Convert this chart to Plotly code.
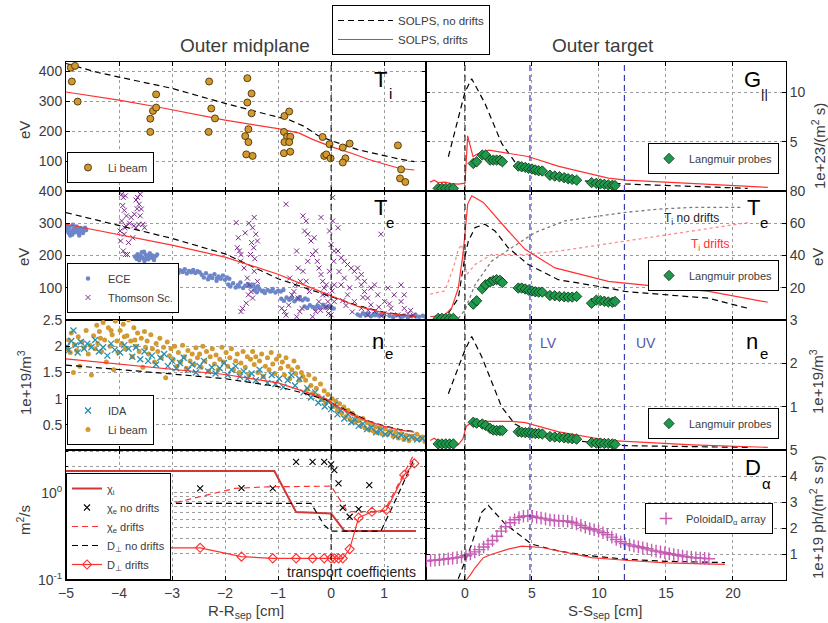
import plotly.graph_objects as go

W, H = 828, 623
FONT = "Liberation Sans, Arial, Helvetica, sans-serif"
INK = "#3c3c3c"
RED = "#ff3030"
CHI_RED = "#d03838"
DASH = "6px,4px"

# ---------------- coordinates ----------------
R_RANGE = [-5.0, 1.79]          # R - R_sep [cm]
S_RANGE = [-2.91, 23.96]        # S - S_sep [cm]
SEP = 0.0
LV_S = 4.85
UV_S = 11.9

# ---------------- outer midplane: T_i [eV] ----------------
ti_nd_r = [-5, -4.4, -3, -2, -1.2, -0.8, -0.5, -0.25, 0, 0.5, 1, 1.3, 1.57]
ti_nd = [425, 395, 342, 292, 255, 238, 215, 185, 168, 138, 118, 106, 98]
ti_d_r = [-5, -4, -3.27, -2, -1, -0.6, -0.35, 0, 0.4, 0.7, 1, 1.3, 1.57]
ti_d = [330, 303, 280, 236, 208, 193, 172, 148, 125, 106, 90, 75, 70]
li_ti = [(-4.91, 411), (-4.83, 417), (-4.89, 365), (-4.78, 298), (-3.41, 197), (-3.41, 241),
         (-3.36, 267), (-3.30, 322), (-3.30, 278), (-2.30, 365), (-2.26, 275), (-2.19, 242),
         (-2.31, 197), (-1.58, 376), (-1.50, 325), (-1.58, 295), (-1.50, 259), (-1.56, 206),
         (-1.62, 183), (-1.56, 163), (-1.60, 122), (-1.48, 117), (-0.88, 250), (-0.79, 265),
         (-0.89, 197), (-0.83, 181), (-0.88, 163), (-0.77, 181), (-0.79, 163), (-0.89, 126),
         (-0.77, 131), (-0.16, 180), (-0.03, 156), (-0.13, 117), (-0.09, 122), (-0.01, 109),
         (0.22, 145), (0.35, 158), (0.27, 109), (0.22, 95), (1.26, 152), (1.32, 72),
         (1.30, 42), (1.40, 30)]

# ---------------- outer midplane: T_e [eV] ----------------
te_nd_r = [-5, -4, -3, -2, -1, -0.5, 0, 0.5, 1, 1.6]
te_nd = [333, 293, 253, 205, 128, 100, 72, 45, 24, 10]
te_d_r = [-5, -4, -3, -2, -1, -0.5, 0, 0.5, 1, 1.6]
te_d = [297, 265, 232, 195, 142, 108, 75, 42, 22, 10]
ece = [
    (-4.98, 280), (-4.95, 270), (-4.93, 288), (-4.90, 276), (-4.88, 265), (-4.85, 283), (-4.83, 272),
    (-4.80, 290), (-4.78, 279), (-4.76, 268), (-4.73, 285), (-4.71, 274), (-4.69, 282), (-4.66, 277),
    (-4.64, 286), (-4.97, 291), (-4.87, 295), (-4.75, 262), (-4.92, 262), (-4.68, 270), (-4.96, 275),
    (-4.82, 278), (-4.72, 280), (-4.89, 271), (-4.62, 279),
    (-3.70, 197), (-3.67, 190), (-3.65, 204), (-3.62, 185), (-3.60, 199), (-3.57, 210), (-3.55, 192),
    (-3.52, 183), (-3.50, 203), (-3.47, 196), (-3.45, 188), (-3.42, 207), (-3.40, 194), (-3.37, 200),
    (-3.34, 186), (-3.31, 198), (-3.28, 203), (-3.58, 196), (-3.44, 198), (-3.53, 212), (-3.63, 193),
    (-3.48, 190), (-3.36, 193),
    (-2.92, 150), (-2.88, 146), (-2.85, 154), (-2.80, 149), (-2.76, 157), (-2.72, 144), (-2.68, 152),
    (-2.64, 148), (-2.60, 155), (-2.56, 146), (-2.52, 151), (-2.48, 148), (-2.78, 152), (-2.62, 150),
    (-2.44, 140), (-2.40, 132), (-2.36, 145), (-2.32, 126), (-2.28, 137), (-2.24, 130), (-2.20, 142),
    (-2.16, 122), (-2.12, 135), (-2.08, 128), (-2.04, 138), (-2.00, 125), (-1.96, 132), (-1.92, 128),
    (-2.30, 133), (-2.15, 130),
    (-1.94, 110), (-1.90, 104), (-1.85, 114), (-1.80, 101), (-1.76, 108), (-1.71, 116), (-1.66, 99),
    (-1.62, 106), (-1.57, 112), (-1.52, 103), (-1.47, 109), (-1.42, 100), (-1.38, 105), (-1.74, 104),
    (-1.55, 107),
    (-1.45, 92), (-1.40, 86), (-1.35, 95), (-1.30, 89), (-1.25, 84), (-1.20, 93), (-1.15, 88),
    (-1.10, 96), (-1.05, 85), (-1.00, 91), (-0.95, 88), (-0.90, 93), (-1.28, 91), (-1.12, 90),
    (-0.94, 66), (-0.89, 60), (-0.84, 70), (-0.79, 63), (-0.74, 68), (-0.69, 58), (-0.64, 66),
    (-0.59, 71), (-0.54, 61), (-0.49, 67), (-0.44, 63), (-0.77, 65), (-0.60, 64),
    (-0.50, 42), (-0.45, 37), (-0.40, 46), (-0.35, 40), (-0.30, 35), (-0.25, 44), (-0.20, 39),
    (-0.15, 47), (-0.10, 38), (-0.05, 43), (0.00, 40), (0.05, 36), (-0.28, 41), (-0.12, 42),
    (0.50, 17), (0.55, 13), (0.60, 21), (0.65, 15), (0.70, 19), (0.75, 12), (0.80, 18),
    (0.85, 22), (0.90, 14), (0.95, 17), (1.00, 13), (0.68, 16), (0.83, 15),
    (1.10, 13), (1.17, 9), (1.24, 15), (1.31, 10), (1.38, 14), (1.45, 8), (1.52, 12),
    (1.59, 16), (1.66, 10), (1.73, 13), (1.78, 9), (1.35, 11), (1.60, 11)]
thomson = [
    (-3.95, 390), (-3.92, 380), (-3.88, 385), (-3.93, 355), (-3.90, 340), (-3.86, 323), (-3.95, 307),
    (-3.87, 292), (-3.90, 266), (-3.82, 240), (-3.88, 203), (-3.89, 286), (-3.77, 318), (-3.71, 328),
    (-3.65, 380), (-3.62, 359), (-3.58, 344), (-3.60, 323), (-3.63, 297), (-3.68, 286), (-3.72, 292),
    (-3.55, 297), (-3.52, 286), (-3.74, 255), (-3.66, 345), (-3.98, 276), (-3.97, 245), (-3.92, 214),
    (-3.84, 203), (-3.80, 300), (-3.60, 390), (-3.68, 372),
    (-1.79, 302), (-1.75, 255), (-1.77, 224), (-1.73, 214), (-1.70, 203), (-1.71, 182), (-1.64, 161),
    (-1.58, 130), (-1.54, 109), (-1.51, 88), (-1.48, 68), (-1.45, 318), (-1.48, 286), (-1.42, 266),
    (-1.39, 245), (-1.46, 224), (-1.52, 203), (-1.56, 78), (-1.60, 52), (-1.67, 36), (-1.70, 26),
    (-1.45, 151), (-1.39, 120), (-1.62, 270), (-1.55, 300), (-1.50, 240), (-1.44, 190),
    (-0.85, 359), (-0.93, 36), (-0.88, 26), (-0.85, 15), (-0.80, 46), (-0.74, 78), (-0.68, 109),
    (-0.62, 68), (-0.59, 26), (-0.65, 10), (-0.55, 36), (-0.62, 161), (-0.65, 214), (-0.70, 88),
    (-0.78, 130), (-0.58, 120),
    (-0.53, 323), (-0.47, 307), (-0.50, 276), (-0.44, 266), (-0.38, 245), (-0.32, 255), (-0.29, 214),
    (-0.26, 182), (-0.23, 161), (-0.19, 141), (-0.16, 120), (-0.13, 99), (-0.09, 78), (-0.06, 57),
    (-0.03, 36), (0.00, 16), (0.03, 380), (0.03, 307), (0.06, 214), (0.05, 182), (-0.03, 151),
    (-0.09, 109), (-0.16, 78), (-0.23, 57), (-0.29, 26), (-0.35, 10), (-0.41, 88), (-0.47, 120),
    (-0.53, 151), (-0.44, 182), (-0.35, 203), (-0.03, 276), (0.00, 234), (0.06, 109), (0.06, 57),
    (-0.19, 318), (-0.10, 40), (-0.05, 20), (0.02, 90), (-0.20, 30),
    (0.13, 214), (0.19, 193), (0.25, 182), (0.31, 172), (0.38, 161), (0.44, 151), (0.50, 130),
    (0.57, 109), (0.63, 88), (0.69, 68), (0.75, 47), (0.82, 26), (0.13, 286), (0.19, 109),
    (0.31, 78), (0.44, 57), (0.57, 36), (0.69, 16), (0.94, 266), (1.07, 99), (1.19, 78),
    (1.32, 57), (1.38, 36), (1.26, 16), (1.13, 36), (1.01, 57), (0.88, 78), (0.75, 99),
    (0.63, 120), (0.57, 141), (0.50, 161), (0.82, 109), (1.32, 109), (1.38, 78), (0.25, 130),
    (0.35, 100), (0.90, 40), (1.00, 20), (1.45, 20), (1.50, 30), (1.55, 15), (0.40, 25),
    (0.28, 45), (0.15, 150), (0.22, 60), (0.60, 70), (0.70, 30), (1.10, 50), (0.95, 12)]

# ---------------- outer midplane: n_e [1e19 m^-3] ----------------
ne_nd_r = [-5, -4, -3, -2, -1, -0.5, -0.1, 0, 0.38, 0.69, 1, 1.3, 1.57]
ne_nd = [1.64, 1.56, 1.47, 1.38, 1.23, 1.10, 0.98, 0.92, 0.74, 0.58, 0.48, 0.41, 0.37]
ne_d_r = [-5, -4, -3, -2, -1, -0.5, -0.1, 0, 0.38, 0.69, 1, 1.3, 1.57]
ne_d = [1.76, 1.66, 1.57, 1.46, 1.30, 1.14, 1.00, 0.92, 0.70, 0.57, 0.47, 0.40, 0.36]
li_ne = [
    (-4.98, 1.95), (-4.95, 2.12), (-4.92, 1.88), (-4.90, 2.25), (-4.86, 1.50), (-4.84, 2.03),
    (-4.80, 1.92), (-4.77, 2.18), (-4.74, 1.62), (-4.70, 2.08), (-4.66, 1.97), (-4.62, 2.30),
    (-4.58, 1.85), (-4.55, 2.02), (-4.52, 1.45),
    (-4.48, 2.20), (-4.45, 1.95), (-4.42, 2.40), (-4.40, 2.05), (-4.37, 2.28), (-4.33, 1.90),
    (-4.30, 2.45), (-4.27, 2.12), (-4.24, 1.70), (-4.20, 2.35), (-4.17, 2.00), (-4.13, 2.22),
    (-4.10, 1.55), (-4.07, 2.48), (-4.04, 2.10), (-4.02, 1.88), (-4.35, 2.15), (-4.15, 2.30),
    (-3.98, 2.30), (-3.95, 2.05), (-3.92, 2.42), (-3.88, 1.95), (-3.85, 2.20), (-3.82, 2.50),
    (-3.78, 2.10), (-3.75, 1.80), (-3.72, 2.35), (-3.68, 2.00), (-3.65, 2.25), (-3.62, 1.90),
    (-3.58, 2.15), (-3.55, 1.60), (-3.52, 2.28), (-3.50, 1.98), (-3.90, 2.18), (-3.70, 2.12),
    (-3.47, 2.10), (-3.44, 1.85), (-3.40, 2.22), (-3.37, 1.95), (-3.33, 1.70), (-3.30, 2.05),
    (-3.27, 1.90), (-3.23, 2.15), (-3.20, 1.78), (-3.16, 1.98), (-3.12, 1.40), (-3.09, 2.08),
    (-3.05, 1.82), (-3.02, 1.95),
    (-2.98, 1.75), (-2.95, 2.00), (-2.91, 1.62), (-2.88, 1.88), (-2.84, 1.70), (-2.80, 2.02),
    (-2.77, 1.80), (-2.73, 1.58), (-2.70, 1.92), (-2.66, 1.72), (-2.62, 1.85), (-2.58, 1.65),
    (-2.55, 1.97), (-2.52, 1.78),
    (-2.48, 1.85), (-2.45, 1.60), (-2.42, 2.00), (-2.38, 1.72), (-2.35, 1.90), (-2.31, 1.52),
    (-2.28, 1.80), (-2.24, 1.95), (-2.20, 1.66), (-2.17, 1.83), (-2.13, 1.55), (-2.10, 1.75),
    (-2.06, 1.98), (-2.03, 1.70),
    (-1.98, 1.88), (-1.95, 1.62), (-1.91, 1.78), (-1.88, 1.95), (-1.84, 1.55), (-1.80, 1.72),
    (-1.77, 1.85), (-1.73, 1.50), (-1.70, 1.68), (-1.66, 1.90), (-1.62, 1.60), (-1.58, 1.80),
    (-1.55, 1.45), (-1.52, 1.75),
    (-1.48, 1.90), (-1.45, 1.65), (-1.42, 1.80), (-1.38, 1.50), (-1.35, 1.72), (-1.31, 1.85),
    (-1.28, 1.42), (-1.24, 1.62), (-1.20, 1.78), (-1.17, 1.55), (-1.13, 1.88), (-1.10, 1.66),
    (-1.06, 1.48), (-1.03, 1.75),
    (-0.98, 1.82), (-0.95, 1.58), (-0.92, 1.70), (-0.88, 1.45), (-0.85, 1.78), (-0.81, 1.62),
    (-0.78, 1.38), (-0.74, 1.55), (-0.70, 1.72), (-0.67, 1.48), (-0.63, 1.60), (-0.60, 1.35),
    (-0.56, 1.50), (-0.53, 1.42),
    (-0.48, 1.35), (-0.45, 1.18), (-0.42, 1.45), (-0.38, 1.25), (-0.35, 1.10), (-0.31, 1.38),
    (-0.28, 1.20), (-0.24, 1.05), (-0.20, 1.28), (-0.17, 0.98), (-0.13, 1.15), (-0.10, 0.92),
    (-0.06, 1.08), (-0.03, 0.95),
    (0.02, 1.00), (0.05, 0.85), (0.09, 0.95), (0.12, 0.78), (0.16, 0.90), (0.20, 0.72),
    (0.24, 0.84), (0.28, 0.66), (0.32, 0.78), (0.36, 0.60), (0.40, 0.72), (0.44, 0.56),
    (0.48, 0.65),
    (0.52, 0.58), (0.56, 0.48), (0.60, 0.62), (0.64, 0.44), (0.68, 0.54), (0.72, 0.40),
    (0.76, 0.50), (0.80, 0.38), (0.84, 0.46), (0.88, 0.35), (0.92, 0.44), (0.96, 0.33),
    (1.02, 0.42), (1.07, 0.32), (1.12, 0.38), (1.17, 0.28), (1.22, 0.36), (1.27, 0.25),
    (1.32, 0.33), (1.37, 0.22), (1.42, 0.30), (1.47, 0.20), (1.52, 0.28), (1.57, 0.24),
    (1.62, 0.32), (1.67, 0.22), (1.72, 0.27), (1.77, 0.18)]
ida = [
    (-4.98, 2.00), (-4.95, 1.92), (-4.90, 2.10), (-4.86, 2.30), (-4.82, 2.02), (-4.78, 1.88),
    (-4.72, 2.08), (-4.66, 1.95), (-4.60, 2.05), (-4.52, 1.98), (-4.45, 2.12), (-4.38, 1.90),
    (-4.30, 1.98), (-4.22, 1.82), (-4.15, 2.05), (-4.08, 1.93), (-3.98, 1.88), (-3.90, 2.02),
    (-3.82, 1.95), (-3.75, 1.80), (-3.68, 1.98), (-3.60, 1.75), (-3.52, 1.90), (-3.45, 1.72),
    (-3.38, 1.82), (-3.30, 1.65), (-3.22, 1.78), (-3.15, 1.85), (-3.08, 1.62), (-3.00, 1.72),
    (-2.92, 1.58), (-2.85, 1.68), (-2.78, 1.78), (-2.70, 1.55), (-2.62, 1.65), (-2.55, 1.50),
    (-2.48, 1.62), (-2.40, 1.72), (-2.32, 1.52), (-2.25, 1.60), (-2.18, 1.48), (-2.10, 1.58),
    (-2.02, 1.68), (-1.95, 1.45), (-1.88, 1.55), (-1.80, 1.62), (-1.72, 1.42), (-1.65, 1.52),
    (-1.58, 1.38), (-1.50, 1.48), (-1.42, 1.35), (-1.35, 1.55), (-1.28, 1.42), (-1.20, 1.30),
    (-1.12, 1.45), (-1.05, 1.28), (-0.98, 1.38), (-0.90, 1.22), (-0.82, 1.35), (-0.75, 1.45),
    (-0.68, 1.25), (-0.60, 1.38), (-0.52, 1.12), (-0.45, 1.20), (-0.38, 1.02), (-0.30, 1.12),
    (-0.24, 0.92), (-0.18, 1.00), (-0.12, 0.85), (-0.06, 0.95), (0.00, 0.80), (0.06, 0.88),
    (0.12, 0.70), (0.18, 0.78), (0.25, 0.62), (0.32, 0.70), (0.38, 0.55), (0.45, 0.60),
    (0.52, 0.48), (0.60, 0.52), (0.68, 0.42), (0.76, 0.45), (0.85, 0.36), (0.94, 0.40),
    (1.02, 0.32), (1.12, 0.35), (1.22, 0.28), (1.32, 0.30), (1.42, 0.25), (1.52, 0.27),
    (1.62, 0.22), (1.72, 0.24)]

# ---------------- outer midplane: transport coefficients [m^2/s] ----------------
chi_i_r = [-5, -1.07, -0.66, 0, 0.25, 1.6]
chi_i = [1.77, 1.77, 0.60, 0.58, 0.365, 0.365]
chi_e_nd_r = [-4.75, -3.46, -2.47, -1.69, -1.10, -0.66, -0.35, -0.13, 0.0, 0.06, 0.14, 0.22, 0.35, 0.52, 0.72]
chi_e_nd = [1.12, 1.12, 1.12, 1.13, 1.12, 2.26, 2.26, 2.26, 2.11, 1.82, 1.28, 0.673, 0.531, 0.65, 1.22]
chi_e_d_r = [-5, -4, -3.08, -2.33, -1.82, -1.19, 0, 0.19, 0.31, 1.0, 1.32, 1.57]
chi_e_d = [0.62, 0.65, 0.736, 0.94, 1.12, 1.17, 1.19, 0.79, 0.605, 0.61, 1.46, 2.82]
d_nd_r = [-5, -0.38, -0.13, 0, 0.94, 1.26, 1.57]
d_nd = [0.757, 0.757, 0.426, 0.364, 0.364, 0.94, 2.48]
d_d_r = [-4.75, -3.46, -2.47, -1.69, -1.10, -0.66, -0.35, -0.13, 0.0, 0.06, 0.14, 0.22, 0.35, 0.52, 0.77, 1.04, 1.38, 1.57]
d_d = [0.234, 0.234, 0.234, 0.185, 0.177, 0.177, 0.177, 0.177, 0.177, 0.177, 0.177, 0.177, 0.226, 0.518, 0.605, 0.634, 1.60, 2.17]

# ---------------- outer target: Langmuir probes ----------------
lp_s = [-2.0, -1.72, -1.44, -1.15, -0.87,
        0.62, 0.87, 1.29, 1.54, 1.87, 2.11, 2.36, 2.61, 2.79,
        3.98, 4.23, 4.5, 4.75, 5.0, 5.25, 5.5, 5.77,
        6.34, 6.7, 7.05, 7.4, 7.7, 8.0, 8.33,
        9.45, 9.8, 10.1, 10.4, 10.7, 11.0, 11.2]
lp_gamma = [0.27, 0.27, 0.27, 0.27, 0.27,
            2.8, 2.97, 3.65, 3.65, 3.14, 3.14, 3.14, 3.14, 2.97,
            2.53, 2.46, 2.4, 2.3, 2.23, 2.13, 2.06, 2.03,
            1.6, 1.52, 1.45, 1.35, 1.25, 1.18, 1.1,
            0.85, 0.78, 0.72, 0.68, 0.62, 0.58, 0.55]
lp_te = [1, 1, 1, 1, 1,
         9.8, 11.9, 19.4, 21.9, 23.5, 24.4, 25.0, 24.6, 23.2,
         19.8, 19.8, 19.2, 18.5, 18.0, 17.5, 17.3, 17.3,
         15.2, 15.0, 14.6, 14.4, 14.2, 14.2, 14.6,
         10.4, 12.3, 12.0, 11.6, 11.2, 11.0, 11.5]
lp_ne = [0.14, 0.14, 0.14, 0.14, 0.14,
         0.64, 0.62, 0.60, 0.57, 0.50, 0.46, 0.45, 0.45, 0.45,
         0.42, 0.41, 0.40, 0.40, 0.39, 0.38, 0.38, 0.37,
         0.31, 0.30, 0.29, 0.28, 0.27, 0.26, 0.25,
         0.17, 0.16, 0.16, 0.15, 0.15, 0.14, 0.13]

# ---------------- outer target: SOLPS profiles ----------------
g_nd_s = [-1.24, 0, 0.5, 1.49, 2.74, 3.98, 6, 9.45, 11.94, 16.9, 21.1]
g_nd = [3.48, 10.06, 11.4, 8.9, 4.83, 2.46, 1.6, 0.94, 0.71, 0.44, 0.27]
g_d_s = [-2.6, -2.3, -2.0, -1.5, -1.0, -0.5, 0.0, 0.2, 0.6, 1.0, 1.8, 3.0, 4.7, 7.0, 10.7, 12.0, 16.0, 20.0, 22.6]
g_d = [0.9, 1.1, 0.85, 0.9, 0.75, 0.7, 0.8, 5.6, 3.5, 3.8, 4.15, 3.9, 3.5, 2.5, 1.3, 1.1, 0.85, 0.55, 0.37]

tt_d_s = [-2.6, -1.5, -1.0, -0.5, -0.12, 0.2, 0.5, 1.37, 3.23, 4.48, 6.72, 10.7, 11.94, 18.2, 22.6]
tt_d = [2.0, 3.2, 7.3, 19.8, 42.7, 71.9, 77.0, 72.9, 55.2, 43.8, 32.3, 24.0, 22.9, 17.7, 11.0]
tt_nd_s = [-1.24, -0.5, 0, 0.25, 0.75, 1.49, 2.24, 3.23, 4.72, 6.96, 10.7, 11.94, 18.2, 21.1]
tt_nd = [4.2, 13.5, 39.6, 48.9, 57.3, 59.4, 55.2, 44.8, 34.4, 25.0, 19.8, 17.7, 13.5, 7.3]
ti_t_nd_s = [-0.5, 0, 0.75, 1.99, 3.48, 5.22, 7.46, 9.95, 11.94, 14.4, 16.9, 20.6]
ti_t_nd = [1.0, 6.25, 21.9, 36.5, 44.8, 54.2, 61.5, 64.6, 66.7, 68.75, 69.8, 69.8]
ti_t_d_s = [-2.6, -1.5, -0.87, -0.5, -0.25, 0.12, 0.75, 1.99, 4.48, 6.96, 9.45, 11.94, 16.9, 21.1]
ti_t_d = [16.0, 18.1, 32.3, 43.75, 46.9, 28.1, 34.4, 40.6, 40.6, 42.7, 45.8, 48.9, 55.2, 60.4]

nt_nd_s = [-1.24, 0, 0.5, 1.24, 2.74, 3.73, 5, 8, 11.94, 16, 21.1]
nt_nd = [1.3, 2.31, 2.62, 2.16, 0.99, 0.6, 0.4, 0.22, 0.1, 0.08, 0.06]
nt_d_s = [-2.6, -2.3, -2.0, -1.5, -1.0, -0.5, -0.15, 0.1, 0.5, 1.0, 3.5, 4.5, 7.0, 10.7, 12.0, 17.0, 22.6]
nt_d = [0.22, 0.27, 0.2, 0.12, 0.1, 0.12, 0.26, 0.55, 0.64, 0.66, 0.66, 0.63, 0.42, 0.22, 0.2, 0.12, 0.06]

da_nd_s = [-0.5, 0.5, 1.24, 1.74, 2.99, 4.97, 6.96, 9.0, 11.94, 15.0, 19.4]
da_nd = [0.05, 1.38, 2.6, 2.87, 2.16, 1.38, 1.12, 0.95, 0.8, 0.72, 0.67]
da_d_s = [-2.9, 0.1, 0.4, 0.75, 1.37, 2.0, 3.23, 4.23, 5.72, 6.96, 9.45, 11.94, 15.0, 19.4]
da_d = [0.0, 0.0, 0.2, 0.47, 0.86, 0.99, 1.19, 1.3, 1.25, 1.12, 0.86, 0.76, 0.66, 0.6]
da_array_s = [-2.9, -2.57, -2.24, -1.91, -1.58, -1.25, -0.92, -0.59, -0.26, 0.07, 0.4, 0.73, 1.06,
              1.39, 1.72, 2.05, 2.38, 2.71, 3.04, 3.37, 3.7, 4.03, 4.36, 4.69, 5.02, 5.35, 5.68,
              6.01, 6.34, 6.67, 7.0, 7.33, 7.66, 7.99, 8.32, 8.65, 8.98, 9.31, 9.64, 9.97, 10.3,
              10.63, 10.96, 11.29, 11.62, 11.95, 12.28, 12.61, 12.94, 13.27, 13.6, 13.93, 14.26,
              14.59, 14.92, 15.25, 15.58, 15.91, 16.24, 16.57, 16.9, 17.23, 17.56, 17.89, 18.2]
da_array = [0.73, 0.75, 0.76, 0.78, 0.80, 0.82, 0.84, 0.86, 0.89, 0.93, 1.00, 1.08, 1.17,
            1.27, 1.38, 1.52, 1.68, 1.88, 2.05, 2.20, 2.32, 2.40, 2.45, 2.47, 2.45, 2.41, 2.38,
            2.35, 2.31, 2.29, 2.28, 2.27, 2.26, 2.22, 2.16, 2.10, 2.03, 1.97, 1.93, 1.88, 1.82,
            1.74, 1.65, 1.56, 1.47, 1.40, 1.35, 1.31, 1.28, 1.24, 1.20, 1.15, 1.11,
            1.08, 1.05, 1.01, 0.98, 0.95, 0.92, 0.89, 0.87, 0.85, 0.84, 0.83, 0.82]

# ---------------- axis tick settings ----------------
R_TICKS = [-5, -4, -3, -2, -1, 0, 1]
S_TICKS = [0, 5, 10, 15, 20]
Y_SPECS = {
    1: dict(range=[0, 430], tickvals=[100, 200, 300, 400]),
    2: dict(range=[0, 400], tickvals=[100, 200, 300, 400]),
    3: dict(range=[0.02, 2.5], tickvals=[0.5, 1, 1.5, 2, 2.5], ticktext=["0.5", "1", "1.5", "2", "2.5"]),
    4: dict(type="log", range=[-1, 0.49], tickvals=[0.1, 1],
            ticktext=["10<sup>-1</sup>", "10<sup>0</sup>"]),
    5: dict(range=[0, 13.1], tickvals=[5, 10]),
    6: dict(range=[0, 80], tickvals=[20, 40, 60, 80]),
    7: dict(range=[0, 3], tickvals=[1, 2, 3]),
    8: dict(range=[0, 5], tickvals=[1, 2, 3, 4, 5]),
}
LOG_MINOR = [0.2, 0.3, 0.4, 0.5, 0.6, 0.7, 0.8, 0.9, 2, 3]


def ax(n):
    return ("x" if n == 1 else f"x{n}"), ("y" if n == 1 else f"y{n}")


def unzip(pts):
    return [p[0] for p in pts], [p[1] for p in pts]


fig = go.Figure()


def add_line(n, x, y, color, dash=None, width=1.2, name=None, legend=None, mode="lines",
             marker=None, rank=1000):
    xa, ya = ax(n)
    fig.add_trace(go.Scatter(
        x=x, y=y, xaxis=xa, yaxis=ya, mode=mode, name=name,
        line=dict(color=color, width=width, dash=dash),
        marker=marker, showlegend=legend is not None, legend=legend or "legend",
        legendrank=rank, hoverinfo="skip"))


def add_points(n, x, y, marker, name=None, legend=None, rank=1000):
    xa, ya = ax(n)
    fig.add_trace(go.Scatter(
        x=x, y=y, xaxis=xa, yaxis=ya, mode="markers", name=name, marker=marker,
        showlegend=legend is not None, legend=legend or "legend", legendrank=rank,
        hoverinfo="skip"))


LP_MARKER = dict(symbol="diamond", size=8, color="#1f9a4c", line=dict(color="#0a2a10", width=0.8))

# panel 1: T_i midplane
add_line(1, ti_nd_r, ti_nd, "black", DASH, name="SOLPS, no drifts", legend="legend", rank=1)
add_line(1, ti_d_r, ti_d, RED, name="SOLPS, drifts", legend="legend", rank=2)
x, y = unzip(li_ti)
add_points(1, x, y, dict(symbol="circle", size=7, color="#d3982f", line=dict(color="#4a3405", width=0.9)),
           name="Li beam", legend="legend2")

# panel 2: T_e midplane
x, y = unzip(ece)
add_points(2, x, y, dict(symbol="circle", size=4.5, color="#6d86c8"), name="ECE", legend="legend3", rank=1)
x, y = unzip(thomson)
add_points(2, x, y, dict(symbol="x-thin", size=5, line=dict(color="#7a2a8a", width=1)),
           name="Thomson Sc.", legend="legend3", rank=2)
add_line(2, te_nd_r, te_nd, "black", DASH)
add_line(2, te_d_r, te_d, RED)

# panel 3: n_e midplane
x, y = unzip(li_ne)
add_points(3, x, y, dict(symbol="circle", size=5, color="#d39a32"), name="Li beam", legend="legend4", rank=2)
x, y = unzip(ida)
add_points(3, x, y, dict(symbol="x-thin", size=6, line=dict(color="#2a8fae", width=1.3)),
           name="IDA", legend="legend4", rank=1)
add_line(3, ne_nd_r, ne_nd, "black", DASH)
add_line(3, ne_d_r, ne_d, RED)

# panel 4: transport coefficients
add_line(4, chi_i_r, chi_i, CHI_RED, width=2, name="χ<sub>i</sub>", legend="legend5", rank=1)
add_points(4, chi_e_nd_r, chi_e_nd, dict(symbol="x-thin", size=6, line=dict(color="black", width=1.1)),
           name="χ<sub>e</sub> no drifts", legend="legend5", rank=2)
add_line(4, chi_e_d_r, chi_e_d, RED, DASH, name="χ<sub>e</sub> drifts", legend="legend5", rank=3)
add_line(4, d_nd_r, d_nd, "black", DASH, name="D<sub>⊥</sub> no drifts", legend="legend5", rank=4)
add_line(4, d_d_r, d_d, RED, mode="lines+markers",
         marker=dict(symbol="diamond-open", size=7, color=RED, line=dict(width=1.1)),
         name="D<sub>⊥</sub> drifts", legend="legend5", rank=5)

# panel 5: parallel particle flux at target
add_line(5, g_nd_s, g_nd, "black", DASH)
add_line(5, g_d_s, g_d, RED)
add_points(5, lp_s, lp_gamma, LP_MARKER, name="Langmuir probes", legend="legend6")

# panel 6: T_e (and T_i) at target
add_line(6, ti_t_nd_s, ti_t_nd, "#7a7a7a", "dot", width=1.3)
add_line(6, ti_t_d_s, ti_t_d, "#ff8a8a", "dot", width=1.3)
add_line(6, tt_nd_s, tt_nd, "black", DASH)
add_line(6, tt_d_s, tt_d, RED)
add_points(6, lp_s, lp_te, LP_MARKER, name="Langmuir probes", legend="legend7")

# panel 7: n_e at target
add_line(7, nt_nd_s, nt_nd, "black", DASH)
add_line(7, nt_d_s, nt_d, RED)
add_points(7, lp_s, lp_ne, LP_MARKER, name="Langmuir probes", legend="legend8")

# panel 8: D-alpha emission
add_line(8, da_nd_s, da_nd, "black", DASH)
add_line(8, da_d_s, da_d, RED)
add_points(8, da_array_s, da_array,
           dict(symbol="cross-thin", size=9, line=dict(color="#c55cb4", width=1.4)),
           name="PoloidalD<sub>α</sub> array", legend="legend9")

# ---------------- axes ----------------
LEFT = [66 / W, 426 / W]
RIGHT = [426 / W, 786 / W]
ROWS = [(191, 62), (320, 191), (450, 320), (580, 450)]
GRID = "#9c9c9c"
layout = {}
for n in range(1, 9):
    col, row = (n - 1) // 4, (n - 1) % 4
    bot, top = ROWS[row]
    xa, ya = ax(n)
    common = dict(showline=True, linecolor="black", linewidth=1, mirror="ticks", ticks="inside",
                  ticklen=4, tickcolor="black", showgrid=True, gridcolor=GRID, griddash="dot",
                  gridwidth=1, zeroline=False, automargin=False,
                  tickfont=dict(family=FONT, size=14, color=INK))
    layout["xaxis" if n == 1 else f"xaxis{n}"] = dict(
        common, domain=LEFT if col == 0 else RIGHT, anchor=ya,
        range=R_RANGE if col == 0 else S_RANGE,
        tickvals=R_TICKS if col == 0 else S_TICKS, showticklabels=(row == 3))
    yspec = dict(common, domain=[1 - bot / H, 1 - top / H], anchor=xa,
                 side="left" if col == 0 else "right")
    yspec.update(Y_SPECS[n])
    if n == 4:
        yspec["minor"] = dict(tickvals=LOG_MINOR, ticks="inside", ticklen=2, tickcolor="black",
                              showgrid=True, gridcolor=GRID, griddash="dot", gridwidth=1)
    layout["yaxis" if n == 1 else f"yaxis{n}"] = yspec

# ---------------- reference lines ----------------
shapes = []
for n in range(1, 9):
    xa, ya = ax(n)
    shapes.append(dict(type="line", xref=xa, yref=ya + " domain", x0=SEP, x1=SEP, y0=0, y1=1,
                       line=dict(color="black", width=1, dash=DASH), layer="above"))
    if n >= 5:
        for s in (LV_S, UV_S):
            shapes.append(dict(type="line", xref=xa, yref=ya + " domain", x0=s, x1=s, y0=0, y1=1,
                               line=dict(color="#3b3bb0", width=1.2, dash=DASH), layer="above"))


# ---------------- text ----------------
def ann(text, px, py, size, color=INK, xanchor="center", yanchor="middle", angle=0):
    return dict(text=text, x=px / W, y=1 - py / H, xref="paper", yref="paper", showarrow=False,
                font=dict(family=FONT, size=size, color=color), xanchor=xanchor,
                yanchor=yanchor, textangle=angle)


annotations = [
    ann("Outer midplane", 245, 45, 19),
    ann("Outer target", 603, 45, 19),
    # panel labels
    ann("T", 380, 79, 22, "black"), ann("i", 390, 93, 15, "black"),
    ann("T", 380, 207, 22, "black"), ann("e", 390, 222, 15, "black"),
    ann("n", 378, 341, 22, "black"), ann("e", 389, 353, 15, "black"),
    ann("G", 752, 80, 22, "black"), ann("||", 764, 94, 13, "black"),
    ann("T", 753, 207, 22, "black"), ann("e", 764, 222, 15, "black"),
    ann("n", 752, 341, 22, "black"), ann("e", 764, 353, 15, "black"),
    ann("D", 753, 467, 22, "black"), ann("α", 766, 483, 15, "black"),
    # y-axis titles
    ann("eV", 24, 130, 15, angle=-90),
    ann("eV", 24, 257, 15, angle=-90),
    ann("1e+19/m<sup>3</sup>", 24, 383, 15, angle=-90),
    ann("m<sup>2</sup>/s", 23, 520, 15, angle=-90),
    ann("1e+23/(m<sup>2</sup> s)", 818, 146, 15, angle=-90),
    ann("eV", 818, 257, 15, angle=-90),
    ann("1e+19/m<sup>3</sup>", 816, 382, 15, angle=-90),
    ann("1e+19 ph/(m<sup>2</sup> s sr)", 816, 517, 15, angle=-90),
    # x-axis titles
    ann("R-R<sub>sep</sub> [cm]", 246, 600, 15, yanchor="top"),
    ann("S-S<sub>sep</sub> [cm]", 605, 600, 15, yanchor="top"),
    # in-panel texts
    ann("transport coefficients", 418, 572, 14, "#222", xanchor="right"),
    ann("T<sub>i</sub> no drifts", 691, 219, 12, "#222"),
    ann("T<sub>i</sub> drifts", 710, 245, 12, RED),
    ann("LV", 548, 343, 14, "#5555aa"),
    ann("UV", 646, 343, 14, "#5555aa"),
]


def box_legend(px, py, xanchor, yanchor, size=11, itemwidth=30):
    return dict(x=px / W, y=1 - py / H, xref="paper", yref="paper", xanchor=xanchor,
                yanchor=yanchor, bgcolor="white", bordercolor="black", borderwidth=1,
                font=dict(family=FONT, size=size, color=INK), tracegroupgap=0,
                itemsizing="trace", traceorder="normal", itemwidth=itemwidth)


layout.update(
    width=W, height=H, margin=dict(l=0, r=0, t=0, b=0),
    paper_bgcolor="white", plot_bgcolor="white",
    font=dict(family=FONT, color=INK, size=13),
    shapes=shapes, annotations=annotations, hovermode=False,
    legend=box_legend(332, 5, "left", "top", 11.5, itemwidth=55),
    legend2=box_legend(67, 183, "left", "bottom"),
    legend3=box_legend(67, 313, "left", "bottom"),
    legend4=box_legend(67, 445, "left", "bottom"),
    legend5=box_legend(66, 580, "left", "bottom"),
    legend6=box_legend(779, 143, "right", "top"),
    legend7=box_legend(779, 260, "right", "top"),
    legend8=box_legend(779, 408, "right", "top"),
    legend9=box_legend(773, 503, "right", "top"),
)
fig.update_layout(layout)
fig.write_html("out.html")
